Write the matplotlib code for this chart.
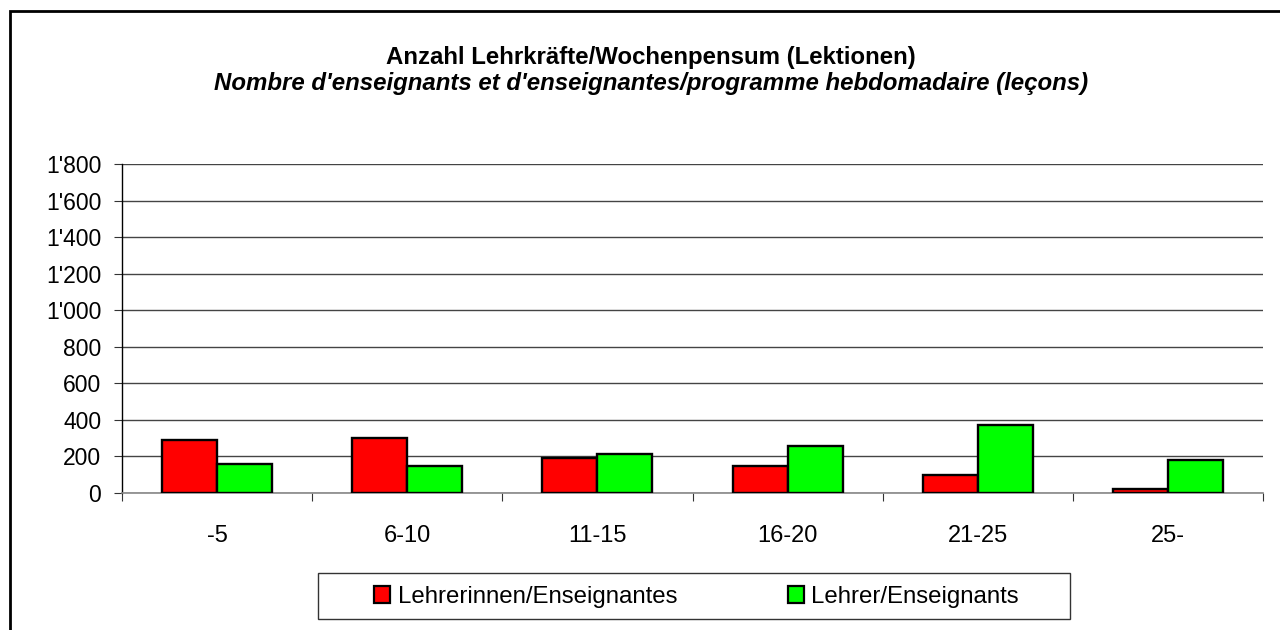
import matplotlib
matplotlib.use("Agg")
import matplotlib.pyplot as plt
from matplotlib.patches import Rectangle, Patch
from matplotlib.ticker import FuncFormatter, FixedLocator
import numpy as np

plt.rcParams['font.family'] = ['Liberation Sans', 'DejaVu Sans']

categories = ["-5", "6-10", "11-15", "16-20", "21-25", "25-"]
lehrerinnen = [290, 300, 194, 147, 101, 24]
lehrer = [160, 150, 213, 257, 374, 180]
series_names = ["Lehrerinnen/Enseignantes", "Lehrer/Enseignants"]
y_ticks = [0, 200, 400, 600, 800, 1000, 1200, 1400, 1600, 1800]
title_de = "Anzahl Lehrkräfte/Wochenpensum (Lektionen)"
title_fr = "Nombre d'enseignants et d'enseignantes/programme hebdomadaire (leçons)"

W, H = 1280, 630
fig = plt.figure(figsize=(W / 100, H / 100), dpi=100)
fig.patch.set_facecolor('white')

# outer frame (only left and top visible)
fig.patches.append(Rectangle((10 / W, -0.2), 1.5, 1.2 - 11 / H,
                             transform=fig.transFigure, fill=False,
                             edgecolor='black', linewidth=2.0))

ax = fig.add_axes([122 / W, 1 - 493 / H, (1263 - 122) / W, (493 - 164) / H])
x = np.arange(len(categories))
bw = 0.289
ax.bar(x - bw / 2, lehrerinnen, bw, color='#FF0000', edgecolor='black', linewidth=1.7, zorder=3)
ax.bar(x + bw / 2, lehrer, bw, color='#00FF00', edgecolor='black', linewidth=1.7, zorder=3)

ax.set_xlim(-0.5, len(categories) - 0.5)
ax.set_ylim(0, 1800)
ax.set_yticks(y_ticks)
ax.yaxis.set_major_formatter(FuncFormatter(lambda v, p: f"{int(v):,}".replace(",", "'")))
ax.yaxis.grid(True, color='#444444', linewidth=1.0, zorder=0)
ax.set_axisbelow(True)

ax.set_xticks(x)
ax.set_xticklabels(categories)
ax.xaxis.set_minor_locator(FixedLocator(np.arange(-0.5, len(categories), 1.0)))
ax.tick_params(axis='x', which='major', length=0, pad=23, labelsize=17)
ax.tick_params(axis='x', which='minor', length=6, width=0.8, direction='out', color='#333333')
ax.tick_params(axis='y', length=6, width=0.8, direction='out', pad=9, labelsize=16.5, color='#333333')

for s in ['top', 'right']:
    ax.spines[s].set_visible(False)
ax.spines['left'].set_color('black')
ax.spines['left'].set_linewidth(1.0)
ax.spines['bottom'].set_color('#888888')
ax.spines['bottom'].set_linewidth(1.2)

fig.text(651 / W, 1 - 64 / H, title_de, ha='center', va='baseline',
         fontsize=17.3, fontweight='bold')
fig.text(651 / W, 1 - 90 / H, title_fr, ha='center', va='baseline',
         fontsize=17.3, fontweight='bold', fontstyle='italic')

# legend
fig.patches.append(Rectangle((318 / W, 1 - 619 / H), (1070 - 318) / W, (619 - 573) / H,
                             transform=fig.transFigure, fill=False,
                             edgecolor='#333333', linewidth=1.0))
handles = [Patch(facecolor='#FF0000', edgecolor='black', linewidth=1.6),
           Patch(facecolor='#00FF00', edgecolor='black', linewidth=1.6)]
fig.legend(handles, series_names, loc='center left', bbox_to_anchor=(374 / W, 1 - 597 / H),
           ncol=2, frameon=False, fontsize=17.3, handlelength=0.68, handleheight=0.72,
           handletextpad=0.3, columnspacing=4.6, borderpad=0, borderaxespad=0)

fig.savefig("out.png", dpi=100, facecolor='white')
